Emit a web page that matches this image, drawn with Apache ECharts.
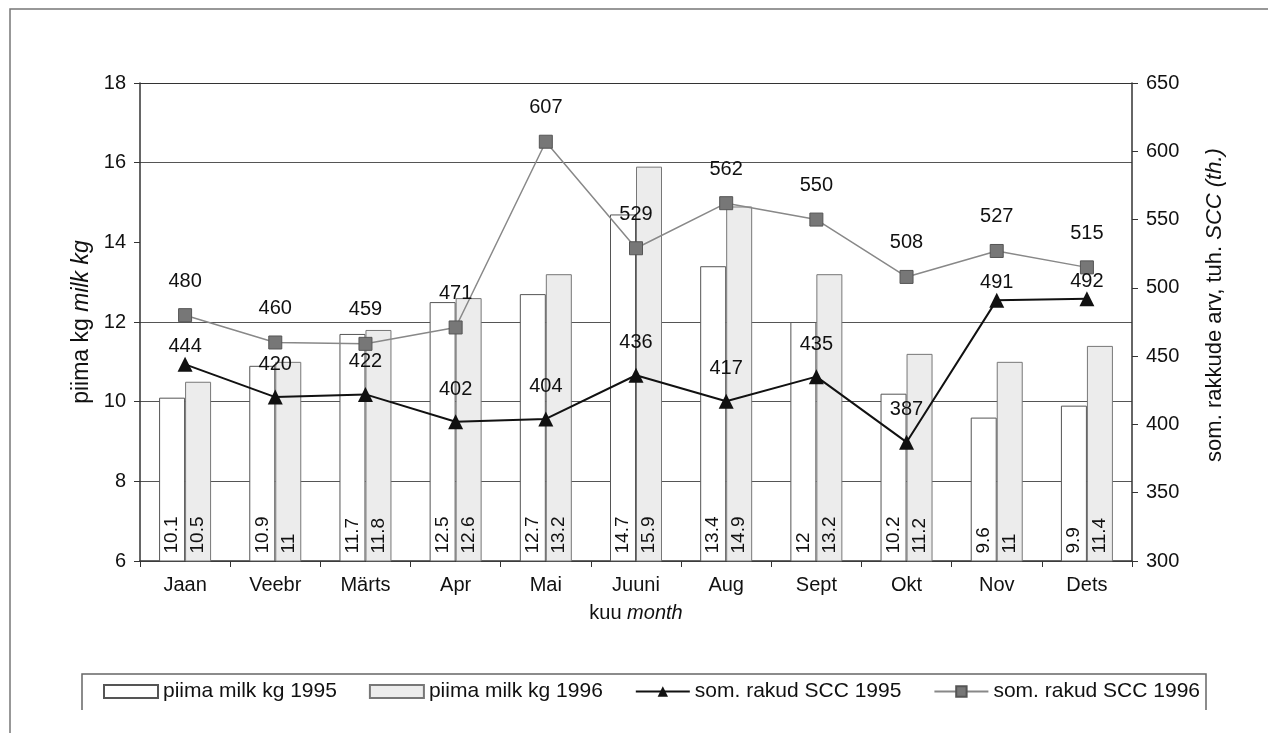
<!DOCTYPE html>
<html>
<head>
<meta charset="utf-8">
<script src="https://cdn.jsdelivr.net/npm/echarts@6/dist/echarts.min.js"></script>
<style>
html,body{margin:0;padding:0;background:#fff;}
#chart{width:1268px;height:733px;}
</style>
</head>
<body>
<div id="chart"></div>
<script>
const months = ['Jaan','Veebr','Märts','Apr','Mai','Juuni','Aug','Sept','Okt','Nov','Dets'];
const milk1995 = [10.1, 10.9, 11.7, 12.5, 12.7, 14.7, 13.4, 12, 10.2, 9.6, 9.9];
const milk1996 = [10.5, 11, 11.8, 12.6, 13.2, 15.9, 14.9, 13.2, 11.2, 11, 11.4];
const scc1995 = [444, 420, 422, 402, 404, 436, 417, 435, 387, 491, 492];
const scc1996 = [480, 460, 459, 471, 607, 529, 562, 550, 508, 527, 515];
const leftTicks = [6, 18, 2];
const rightTicks = [300, 650, 50];
const seriesNames = ['piima milk kg 1995', 'piima milk kg 1996', 'som. rakud SCC 1995', 'som. rakud SCC 1996'];

const FONT = 'Liberation Sans, Arial, sans-serif';
const chart = echarts.init(document.getElementById('chart'));

// labels of 1995 SCC that sit close to their marker (moved in the original)
const closeLabels = [0, 9, 10];
const scc1995Data = scc1995.map((v, i) => closeLabels.includes(i)
  ? { value: v, label: { distance: 0 } } : v);

const barLabel = {
  show: true, position: 'insideBottom', rotate: 90, align: 'left',
  verticalAlign: 'middle', distance: 8, fontSize: 19, color: '#111', fontFamily: FONT
};

chart.setOption({
  animation: false,
  backgroundColor: '#fff',
  textStyle: { fontFamily: FONT },
  grid: { left: 140, top: 83, right: 136, bottom: 172 },
  legend: {
    left: 98, top: 676, itemWidth: 54, itemHeight: 13, itemGap: 32,
    textStyle: { fontSize: 21, color: '#111', fontFamily: FONT },
    data: [
      { name: seriesNames[0], icon: 'rect' },
      { name: seriesNames[1], icon: 'rect' },
      { name: seriesNames[2] },
      { name: seriesNames[3] }
    ]
  },
  xAxis: {
    type: 'category', data: months,
    axisLine: { lineStyle: { color: '#333', width: 1.5 } },
    axisTick: { show: true, length: 6, lineStyle: { color: '#333' } },
    axisLabel: { fontSize: 20, color: '#111', margin: 14 },
    name: '{a|kuu }{b|month}', nameLocation: 'middle', nameGap: 42,
    nameTextStyle: { rich: { a: { fontSize: 20, color: '#111' }, b: { fontSize: 20, color: '#111', fontStyle: 'italic' } } }
  },
  yAxis: [
    {
      type: 'value', min: leftTicks[0], max: leftTicks[1], interval: leftTicks[2],
      axisLine: { show: true, lineStyle: { color: '#333', width: 1.5 } },
      axisTick: { show: true, length: 6, lineStyle: { color: '#333' } },
      axisLabel: { fontSize: 20, color: '#111', margin: 14 },
      splitLine: { show: true, lineStyle: { color: ['#555', '#555', '#555', '#555', 'rgba(0,0,0,0)', '#555', '#333'], width: 1.2 } },
      name: '{a|piima kg }{b|milk kg}', nameLocation: 'middle', nameGap: 47, nameRotate: 90,
      nameTextStyle: { padding: [0, 0, 0, 0], rich: { a: { fontSize: 23, color: '#111' }, b: { fontSize: 23, color: '#111', fontStyle: 'italic' } } }
    },
    {
      type: 'value', min: rightTicks[0], max: rightTicks[1], interval: rightTicks[2], position: 'right',
      axisLine: { show: true, lineStyle: { color: '#333', width: 1.5 } },
      axisTick: { show: true, length: 6, lineStyle: { color: '#333' } },
      axisLabel: { fontSize: 20, color: '#111', margin: 14 },
      splitLine: { show: false },
      name: '{a|som. rakkude arv, tuh. }{b|SCC (th.)}', nameLocation: 'middle', nameGap: 72, nameRotate: 90,
      nameTextStyle: { padding: [0, 0, 0, 34], rich: { a: { fontSize: 22, color: '#111' }, b: { fontSize: 22, color: '#111', fontStyle: 'italic' } } }
    }
  ],
  series: [
    {
      name: seriesNames[0], type: 'bar', data: milk1995, barWidth: 26, barGap: '0%',
      itemStyle: { color: '#ffffff', borderColor: '#555', borderWidth: 1 },
      label: barLabel, z: 2
    },
    {
      name: seriesNames[1], type: 'bar', data: milk1996, barWidth: 26,
      itemStyle: { color: '#ececec', borderColor: '#777', borderWidth: 1 },
      label: barLabel, z: 2
    },
    {
      name: seriesNames[2], type: 'line', yAxisIndex: 1, data: scc1995Data,
      symbol: 'triangle', symbolSize: 15,
      lineStyle: { color: '#111', width: 2 },
      itemStyle: { color: '#111' },
      label: { show: true, position: 'top', distance: 15, fontSize: 20, color: '#111' },
      z: 5
    },
    {
      name: seriesNames[3], type: 'line', yAxisIndex: 1, data: scc1996,
      symbol: 'rect', symbolSize: 13,
      lineStyle: { color: '#888', width: 1.5 },
      itemStyle: { color: '#777', borderColor: '#555', borderWidth: 1 },
      label: { show: true, position: 'top', distance: 17, fontSize: 20, color: '#111' },
      z: 4
    }
  ],
  graphic: [
    { type: 'polyline', shape: { points: [[10, 733], [10, 9], [1268, 9]] }, style: { stroke: '#777', lineWidth: 1.5, fill: null }, silent: true },
    { type: 'polyline', shape: { points: [[82, 710], [82, 674], [1206, 674], [1206, 710]] }, style: { stroke: '#666', lineWidth: 1.5, fill: null }, silent: true }
  ]
});
</script>
</body>
</html>
